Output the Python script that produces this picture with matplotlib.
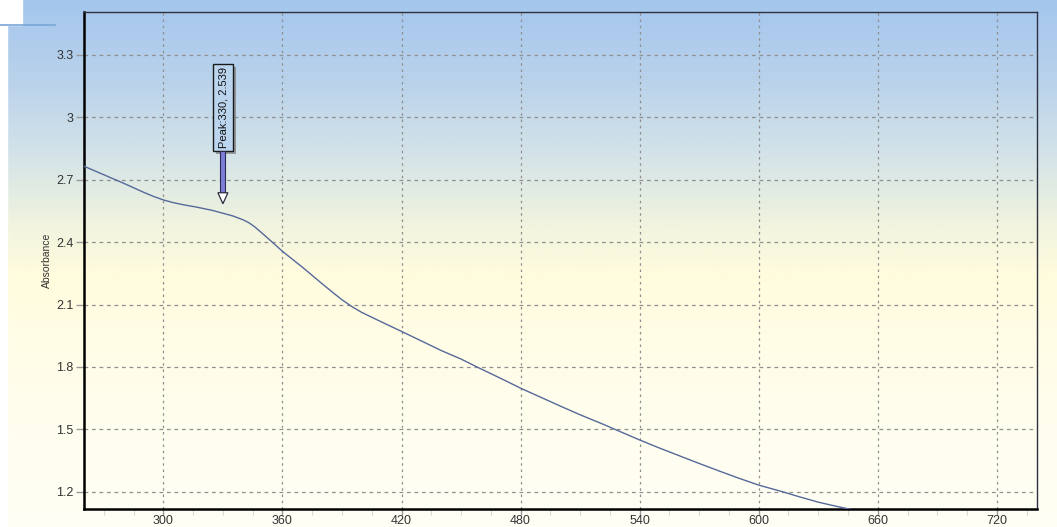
import numpy as np
import matplotlib
matplotlib.use("Agg")
import matplotlib.pyplot as plt
from matplotlib.patches import Rectangle, Polygon
from matplotlib.colors import LinearSegmentedColormap

plt.rcParams['font.family'] = ['Liberation Sans', 'DejaVu Sans']

# Spectrum: wavelength (nm) vs absorbance
wavelength = [260, 270, 280, 290, 295, 300, 305, 310, 317, 325, 330, 335, 340,
              343, 346, 350, 355, 360, 365, 370, 375, 380, 385, 390, 395, 400,
              410, 420, 430, 440, 450, 458, 470, 480, 490, 500, 510, 520, 530,
              540, 550, 560, 570, 580, 590, 600, 612, 620, 630, 640, 645, 650]
absorbance = [2.765, 2.724, 2.683, 2.640, 2.620, 2.603, 2.590, 2.580, 2.568,
              2.552, 2.539, 2.526, 2.508, 2.494, 2.474, 2.441, 2.399, 2.356,
              2.318, 2.280, 2.240, 2.200, 2.161, 2.123, 2.090, 2.062, 2.016,
              1.971, 1.925, 1.879, 1.838, 1.800, 1.745, 1.698, 1.655, 1.612,
              1.570, 1.531, 1.490, 1.449, 1.410, 1.373, 1.336, 1.300, 1.265,
              1.232, 1.200, 1.177, 1.150, 1.128, 1.118, 1.108]

peak_x, peak_y = 330, 2.539

x_ticks = [300, 360, 420, 480, 540, 600, 660, 720]
y_ticks = [1.2, 1.5, 1.8, 2.1, 2.4, 2.7, 3.0, 3.3]
y_tick_labels = ["1.2", "1.5", "1.8", "2.1", "2.4", "2.7", "3", "3.3"]
x_minor = [v for v in range(270, 740, 15) if v not in x_ticks]

W, H, DPI = 10.57, 5.27, 100
fig = plt.figure(figsize=(W, H), dpi=DPI)

# Background gradient behind the whole window
bg = fig.add_axes([0, 0, 1, 1], zorder=-10)
bg.axis('off')
stops = [(0.0, (164, 198, 237)), (0.15, (185, 210, 235)), (0.30, (213, 228, 232)),
         (0.42, (240, 243, 222)), (0.52, (255, 252, 222)), (0.75, (255, 254, 236)),
         (1.0, (255, 255, 245))]
cmap = LinearSegmentedColormap.from_list(
    "sky", [(p, tuple(c / 255 for c in col)) for p, col in stops])
grad = np.linspace(0, 1, 512).reshape(-1, 1)
bg.imshow(grad, cmap=cmap, aspect='auto', extent=[0, 1, 0, 1], origin='upper')
bg.set_xlim(0, 1)
bg.set_ylim(0, 1)
# window edge details
bg.add_patch(Rectangle((0, 0), 7 / 1057, 1, color='white', zorder=2))
bg.add_patch(Rectangle((0, 1 - 25 / 527), 22 / 1057, 25 / 527, color='white', zorder=2))
bg.plot([0, 55 / 1057], [1 - 25 / 527, 1 - 25 / 527], color='#7aa6d8', lw=1.2, zorder=3)

left, right = 84 / 1057, 1036.5 / 1057
bottom, top = 1 - 509 / 527, 1 - 11.7 / 527
ax = fig.add_axes([left, bottom, right - left, top - bottom])
ax.set_facecolor('none')

xmin, xmax = 260, 740
ymin, ymax = 1.117, 3.508
ax.set_xlim(xmin, xmax)
ax.set_ylim(ymin, ymax)

ax.plot(wavelength, absorbance, color='#55699a', lw=1.0, zorder=3)

ax.set_xticks(x_ticks)
ax.set_xticks(x_minor, minor=True)
ax.set_yticks(y_ticks)
ax.set_yticklabels(y_tick_labels)
ax.tick_params(axis='y', which='major', length=6, width=1, color='#9a9a9a',
               labelsize=9, labelcolor='#333333', pad=1.5)
ax.tick_params(axis='x', which='major', length=4, width=1, color='#9a9a9a',
               labelsize=9, labelcolor='#333333', pad=0.5)
ax.tick_params(axis='x', which='minor', length=4, width=0.8, color='#d8d8d8')
ax.grid(True, axis='y', which='major', color='#8f8f8f', lw=0.9, linestyle=(0, (3, 3)))
ax.grid(True, axis='x', which='major', color='#8f8f8f', lw=0.9, linestyle=(0, (2, 3)))
ax.set_axisbelow(True)

for side in ('left', 'bottom'):
    ax.spines[side].set_color('black')
    ax.spines[side].set_linewidth(1.8)
for side in ('top', 'right'):
    ax.spines[side].set_color('#2d3040')
    ax.spines[side].set_linewidth(1.0)

ax.set_ylabel("Absorbance", fontsize=7.5, color='#333333')
ax.yaxis.set_label_coords(-0.034, 0.5)

# Peak marker: label box with arrow, sized in pixels around the peak point
ax_w_px = (right - left) * W * DPI
ax_h_px = (top - bottom) * H * DPI
ux = (xmax - xmin) / ax_w_px
uy = (ymax - ymin) / ax_h_px

def px(dx):
    return peak_x + dx * ux

def py(dy):
    return peak_y + dy * uy

# shadow + box
ax.add_patch(Rectangle((px(-7), py(59)), 20 * ux, 87.5 * uy, facecolor='#7a7a7a',
                       edgecolor='none', alpha=0.7, zorder=5))
ax.add_patch(Rectangle((px(-10), py(62)), 20 * ux, 87.5 * uy, facecolor='#bcd5ef',
                       edgecolor='#1a1a1a', lw=1.0, zorder=6))
ax.text(px(0.5), py(62 + 87.5 / 2), f"Peak:{peak_x:g}, {peak_y:g}", rotation=90,
        ha='center', va='center', fontsize=8, color='#111111', zorder=7)
# shaft
ax.add_patch(Rectangle((px(-2.5), py(20.5)), 5 * ux, 41.5 * uy, facecolor='#7d7ed8',
                       edgecolor='#2a2a55', lw=0.8, zorder=6))
# hollow head
ax.add_patch(Polygon([(px(-5), py(20.5)), (px(5), py(20.5)), (px(0), py(9.5))],
                     closed=True, facecolor='white', edgecolor='#2a2a40', lw=0.9, zorder=6))

fig.savefig("out.png", dpi=DPI)
